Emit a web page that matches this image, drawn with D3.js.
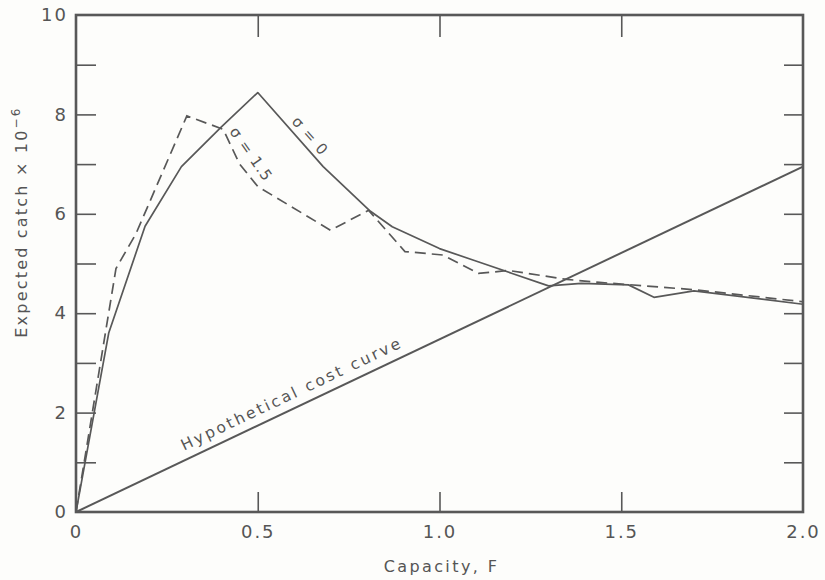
<!DOCTYPE html>
<html>
<head>
<meta charset="utf-8">
<script src="https://cdn.jsdelivr.net/npm/d3@7"></script>
<style>
  html, body { margin: 0; padding: 0; background: #fdfdfb; }
  svg { display: block; }
  text { font-family: "DejaVu Sans", sans-serif; fill: #555; }
</style>
</head>
<body>
<div id="chart"></div>
<script>
// Expected catch (×10^-6) against capacity F
const capacitySigma0 = [0, 0.09, 0.19, 0.29, 0.4, 0.5, 0.68, 0.81, 0.87, 1.0, 1.1, 1.2, 1.3, 1.39, 1.52, 1.59, 1.7, 2.0];
const catchSigma0    = [0, 3.6, 5.75, 6.95, 7.75, 8.44, 6.95, 6.05, 5.74, 5.3, 5.05, 4.8, 4.55, 4.6, 4.57, 4.32, 4.45, 4.18];

const capacitySigma15 = [0, 0.11, 0.165, 0.305, 0.405, 0.45, 0.5, 0.7, 0.805, 0.905, 1.01, 1.107, 1.19, 1.35, 1.44, 1.705, 2.0];
const catchSigma15    = [0, 4.9, 5.6, 7.97, 7.7, 7.0, 6.55, 5.67, 6.07, 5.24, 5.17, 4.8, 4.86, 4.68, 4.62, 4.47, 4.23];

const costCapacity = [0, 2.0];
const costValue    = [0, 6.95];

const xTickValues = [0, 0.5, 1.0, 1.5, 2.0];
const xTickLabels = ["0", "0.5", "1.0", "1.5", "2.0"];
const yTickValues = [0, 1, 2, 3, 4, 5, 6, 7, 8, 9, 10];
const yTickLabels = ["0", "", "2", "", "4", "", "6", "", "8", "", "10"];

const width = 825, height = 580;
const margin = { top: 15, right: 22, bottom: 68, left: 76 };
const ink = "#585858";

const svg = d3.select("#chart").append("svg")
  .attr("width", width).attr("height", height);

const x = d3.scaleLinear().domain([0, 2]).range([margin.left, width - margin.right]);
const y = d3.scaleLinear().domain([0, 10]).range([height - margin.bottom, margin.top]);

const pts = (xs, ys) => xs.map((v, i) => [v, ys[i]]);
const line = d3.line().x(d => x(d[0])).y(d => y(d[1]));

// Axes with inward ticks
function styleAxis(g) {
  g.select(".domain").remove();
  g.selectAll(".tick line").attr("stroke", ink).attr("stroke-width", 1.6);
  g.selectAll(".tick text")
    .style("font-size", "18px")
    .style("letter-spacing", "2px")
    .attr("fill", "#555");
}

svg.append("g")
  .attr("transform", `translate(${margin.left},0)`)
  .call(d3.axisLeft(y).tickValues(yTickValues.slice(1, -1)).tickSize(-20).tickFormat(""))
  .call(styleAxis);

svg.append("g")
  .attr("transform", `translate(${margin.left},0)`)
  .call(d3.axisLeft(y).tickValues(yTickValues).tickSize(0).tickPadding(8)
    .tickFormat((d, i) => yTickLabels[i]))
  .call(styleAxis);

svg.append("g")
  .attr("transform", `translate(${width - margin.right},0)`)
  .call(d3.axisRight(y).tickValues(yTickValues.slice(1, -1)).tickSize(-19).tickFormat(""))
  .call(styleAxis);

svg.append("g")
  .attr("transform", `translate(0,${margin.top})`)
  .call(d3.axisTop(x).tickValues(xTickValues.slice(1, -1)).tickSize(-22).tickFormat(""))
  .call(styleAxis);

svg.append("g")
  .attr("transform", `translate(0,${height - margin.bottom})`)
  .call(d3.axisBottom(x).tickValues(xTickValues.slice(1, -1)).tickSize(-20).tickFormat(""))
  .call(styleAxis);

svg.append("g")
  .attr("transform", `translate(0,${height - margin.bottom})`)
  .call(d3.axisBottom(x).tickValues(xTickValues).tickSize(0).tickPadding(13)
    .tickFormat((d, i) => xTickLabels[i]))
  .call(styleAxis);

// Curves
svg.append("path")
  .datum(pts(costCapacity, costValue))
  .attr("d", line).attr("fill", "none")
  .attr("stroke", ink).attr("stroke-width", 2);

svg.append("path")
  .datum(pts(capacitySigma0, catchSigma0))
  .attr("d", line).attr("fill", "none")
  .attr("stroke", ink).attr("stroke-width", 1.7)
  .attr("stroke-linejoin", "round");

svg.append("path")
  .datum(pts(capacitySigma15, catchSigma15))
  .attr("d", line).attr("fill", "none")
  .attr("stroke", ink).attr("stroke-width", 1.7)
  .attr("stroke-dasharray", "11,6");

// Frame
svg.append("rect")
  .attr("x", x(0)).attr("y", y(10))
  .attr("width", x(2) - x(0)).attr("height", y(0) - y(10))
  .attr("fill", "none").attr("stroke", ink).attr("stroke-width", 2.6);

// Curve labels, rotated along their lines
function angleOf(x0, y0, x1, y1) {
  return Math.atan2(y(y1) - y(y0), x(x1) - x(x0)) * 180 / Math.PI;
}

const costAngle = angleOf(costCapacity[0], costValue[0], costCapacity[1], costValue[1]);
const costMidF = 0.61;
const costMidV = costValue[1] * costMidF / costCapacity[1];
const rad = costAngle * Math.PI / 180;
const off = 9;
svg.append("text")
  .attr("transform", `translate(${x(costMidF) + off * Math.sin(rad)},${y(costMidV) - off * Math.cos(rad)}) rotate(${costAngle})`)
  .attr("text-anchor", "middle")
  .style("font-size", "15.5px")
  .style("letter-spacing", "2.6px")
  .text("Hypothetical cost curve");

svg.append("text")
  .attr("transform", `translate(${x(0.644)},${y(7.57)}) rotate(${angleOf(0.5, 8.44, 0.68, 6.95)})`)
  .attr("text-anchor", "middle")
  .attr("dy", "0.35em")
  .style("font-size", "15px")
  .style("letter-spacing", "1px")
  .text("σ = 0");

svg.append("text")
  .attr("transform", `translate(${x(0.482)},${y(7.2)}) rotate(55)`)
  .attr("text-anchor", "middle")
  .attr("dy", "0.35em")
  .style("font-size", "15px")
  .style("letter-spacing", "1px")
  .text("σ = 1.5");

// Axis titles
svg.append("text")
  .attr("x", (x(0) + x(2)) / 2 + 2)
  .attr("y", 572)
  .attr("text-anchor", "middle")
  .style("font-size", "16px")
  .style("letter-spacing", "2.4px")
  .text("Capacity, F");

const yTitle = svg.append("text")
  .attr("transform", `translate(27,222) rotate(-90)`)
  .attr("text-anchor", "middle")
  .style("font-size", "16px")
  .style("letter-spacing", "2.2px");
yTitle.append("tspan").text("Expected catch × 10");
yTitle.append("tspan").attr("dy", "-0.55em").style("font-size", "12px").text("−6");
</script>
</body>
</html>
